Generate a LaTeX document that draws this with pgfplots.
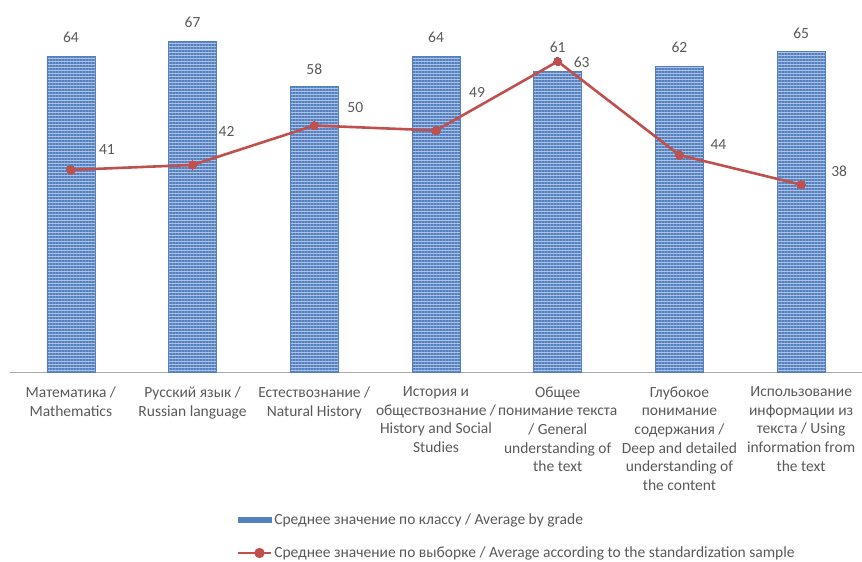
\documentclass[border=0pt]{standalone}
\usepackage{fontspec}
\setmainfont{Carlito}
\usepackage{pgfplots}
\pgfplotsset{compat=1.18}
\usepackage{pgfplotstable}
\usetikzlibrary{patterns.meta}
\definecolor{barblue}{RGB}{84,128,192}
\definecolor{barlight}{RGB}{172,195,230}
\definecolor{linered}{RGB}{192,80,77}
\definecolor{txt}{RGB}{89,89,89}
\definecolor{axisgray}{RGB}{170,170,170}

\pgfplotstableread{
x y dx dy
0 64 0 19
1 67 0 19
2 58 0 17
3 64 0 19
4 61 0 24
5 62 0 19
6 65 0 18
}\bars

\pgfplotstableread{
x y dx dy
0 41 36 20
1 42 34 33
2 50 41 18
3 49 41 38
4 63 24 -1
5 44 39 11
6 38 38 13
}\linedata

\begin{document}
\begin{tikzpicture}
\begin{axis}[
  scale only axis,
  width=852pt, height=372pt,
  xmin=-0.5, xmax=6.5,
  ymin=0, ymax=75.46,
  axis x line*=bottom,
  axis y line=none,
  x axis line style={draw=axisgray, line width=0.8pt, -},
  xtick={0,...,6},
  xtick style={draw=none},
  ytick=\empty,
  /pgf/number format/assume math mode=true,
  xticklabels={
    {Математика /\\Mathematics},
    {Русский язык /\\Russian language},
    {Естествознание /\\Natural History},
    {История и\\обществознание /\\History and Social\\Studies},
    {Общее\\понимание текста\\/ General\\understanding of\\the text},
    {Глубокое\\понимание\\содержания /\\Deep and detailed\\understanding of\\the content},
    {Использование\\информации из\\текста / Using\\information from\\the text}
  },
  xticklabel style={align=center, text=txt, font=\fontsize{15.5}{18.7}\selectfont, anchor=north, yshift=-11pt},
  clip=false,
  legend cell align=left,
  legend style={at={(axis description cs:0.2664,-0.376)}, anchor=north west, draw=none, fill=none,
    font=\fontsize{15.5}{18}\selectfont, text=txt, row sep=18pt, inner sep=0pt,
    nodes={inner sep=1.5pt}},
]
\addplot[ybar, bar width=48pt, draw=barblue, line width=0.6pt, fill=barlight,
  postaction={pattern={Lines[angle=0,distance=3pt,line width=1.8pt]}, pattern color=barblue},
  visualization depends on={\thisrow{dx}\as\dx},
  visualization depends on={\thisrow{dy}\as\dy},
  nodes near coords,
  nodes near coords style={anchor=center, text=txt, font=\fontsize{15.5}{18}\selectfont, xshift=\dx, yshift=\dy},
  legend image code/.code={\fill[barblue] (0pt,-2.5pt) rectangle (33pt,2.5pt);}
] table[x=x,y=y]{\bars};
\addlegendentry{Среднее значение по классу / Average by grade}
\addplot[linered, line width=2.6pt, mark=*, mark size=4.2pt, mark options={fill=linered, draw=linered, line width=0pt},
  visualization depends on={\thisrow{dx}\as\dx},
  visualization depends on={\thisrow{dy}\as\dy},
  nodes near coords,
  nodes near coords style={anchor=center, text=txt, font=\fontsize{15.5}{18}\selectfont, xshift=\dx, yshift=\dy},
  legend image code/.code={\draw[linered, line width=2.6pt] (0pt,0pt) -- (33pt,0pt); \fill[linered] (21pt,0pt) circle (3.8pt);}
] table[x=x,y=y]{\linedata};
\addlegendentry{Среднее значение по выборке / Average according to the standardization sample}
\end{axis}
\pgfresetboundingbox
\path ([shift={(-10pt,-189pt)}]current axis.south west) rectangle (current axis.north east);
\end{tikzpicture}
\end{document}
